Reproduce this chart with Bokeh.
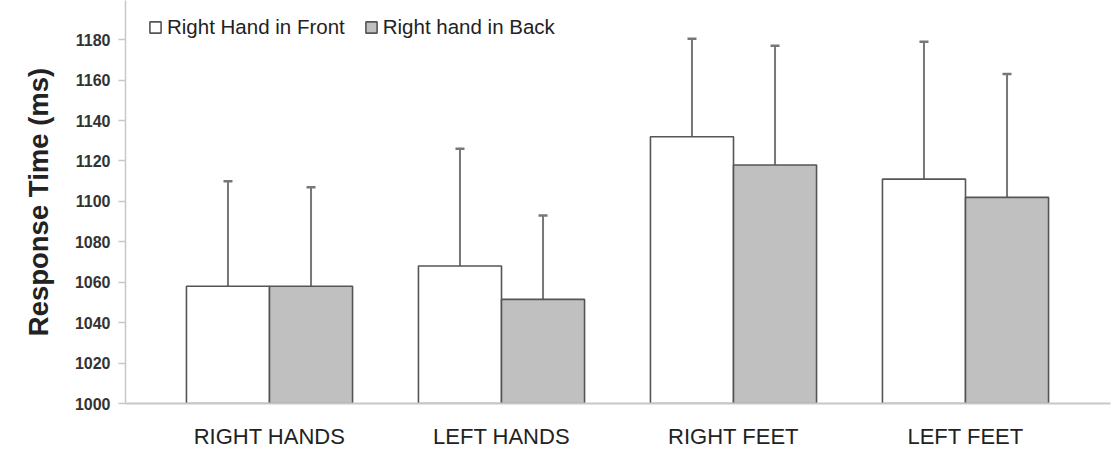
from bokeh.plotting import figure
from bokeh.models import (ColumnDataSource, Range1d, FixedTicker, Whisker, TeeHead,
                          Legend, LegendItem)
from bokeh.embed import file_html
from bokeh.resources import INLINE

categories = ["RIGHT HANDS", "LEFT HANDS", "RIGHT FEET", "LEFT FEET"]
series_names = ["Right Hand in Front", "Right hand in Back"]
front_mean = [1058, 1068, 1132, 1111]
front_upper = [1110, 1126, 1180.5, 1179]
back_mean = [1058, 1051.5, 1118, 1102]
back_upper = [1107, 1093, 1177, 1163]
y_ticks = [1000, 1020, 1040, 1060, 1080, 1100, 1120, 1140, 1160, 1180, 1200]

FONT = "Liberation Sans"
BAR_W = 0.358
OFF = 0.179

idx = list(range(len(categories)))
front_src = ColumnDataSource(dict(x=[i - OFF for i in idx], top=front_mean, upper=front_upper))
back_src = ColumnDataSource(dict(x=[i + OFF for i in idx], top=back_mean, upper=back_upper))

p = figure(width=1113, height=454, output_backend="svg", toolbar_location=None,
           x_range=Range1d(-0.6207, 3.625), y_range=Range1d(1000, 1199.4),
           min_border_left=125, min_border_right=3, min_border_top=0, min_border_bottom=51)
p.outline_line_color = None
p.grid.visible = False
p.background_fill_color = "white"

r_front = p.vbar(x="x", top="top", bottom=1000, width=BAR_W, source=front_src,
                 fill_color="white", line_color="#555555", line_width=1.6)
r_back = p.vbar(x="x", top="top", bottom=1000, width=BAR_W, source=back_src,
                fill_color="#c0c0c0", line_color="#555555", line_width=1.6)

for src in (front_src, back_src):
    w = Whisker(source=src, base="x", upper="upper", lower="top", dimension="height",
                line_color="#777777", line_width=2,
                upper_head=TeeHead(size=9, line_color="#777777", line_width=2.5),
                lower_head=None)
    p.add_layout(w)

# axes
p.xaxis.ticker = FixedTicker(ticks=idx)
p.xaxis.major_label_overrides = {i: c for i, c in zip(idx, categories)}
p.xaxis.major_tick_line_color = None
p.xaxis.minor_tick_line_color = None
p.xaxis.axis_line_color = "#c8c8c8"
p.xaxis.axis_line_width = 2
p.xaxis.major_label_text_font = FONT
p.xaxis.major_label_text_font_size = "22px"
p.xaxis.major_label_text_color = "#222222"
p.xaxis.major_label_standoff = 14

p.yaxis.ticker = FixedTicker(ticks=y_ticks)
p.yaxis.minor_tick_line_color = None
p.yaxis.axis_line_color = "#c8c8c8"
p.yaxis.axis_line_width = 1.5
p.yaxis.major_tick_line_color = "#c8c8c8"
p.yaxis.major_tick_line_width = 1.5
p.yaxis.major_tick_in = 0
p.yaxis.major_tick_out = 7
p.yaxis.major_label_text_font = FONT
p.yaxis.major_label_text_font_style = "bold"
p.yaxis.major_label_text_font_size = "16px"
p.yaxis.major_label_text_color = "#333333"
p.yaxis.major_label_standoff = 8
p.yaxis.axis_label = "Response Time (ms)"
p.yaxis.axis_label_text_font = FONT
p.yaxis.axis_label_text_font_style = "bold"
p.yaxis.axis_label_text_font_size = "27.5px"
p.yaxis.axis_label_text_color = "#222222"
p.yaxis.axis_label_standoff = 18

legend = Legend(items=[LegendItem(label=series_names[0], renderers=[r_front]),
                       LegendItem(label=series_names[1], renderers=[r_back])],
                orientation="horizontal", location=(23, 364),
                padding=0, margin=0, spacing=19, label_standoff=5,
                glyph_width=14, glyph_height=14, label_height=23,
                border_line_color=None, background_fill_alpha=0,
                label_text_font=FONT, label_text_font_size="20.5px",
                label_text_color="#222222")
p.add_layout(legend, "center")

open("out.html", "w").write(file_html(p, INLINE))
